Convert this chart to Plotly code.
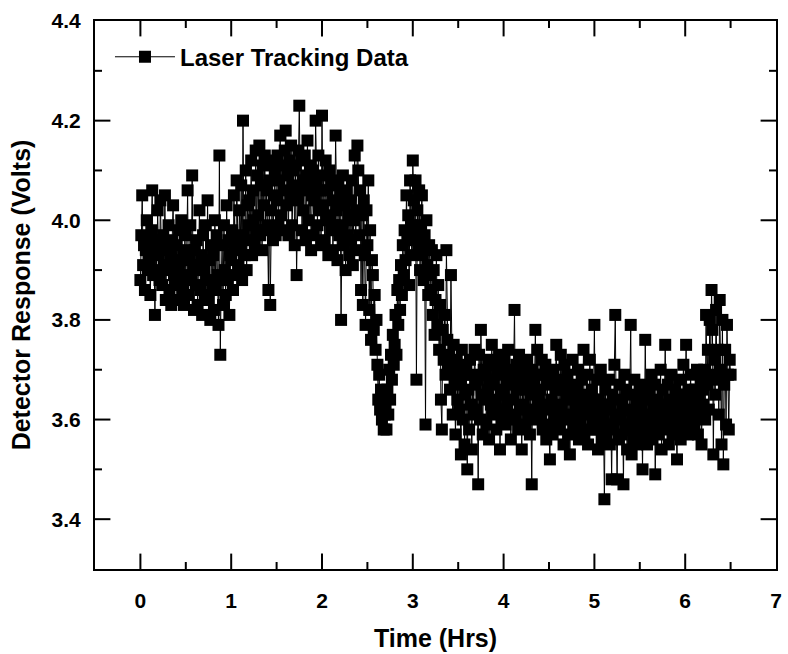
import plotly.graph_objects as go

# Time samples (hours), 0.00 .. 6.50 every 0.01 h
time_hrs = [round(i * 0.01, 2) for i in range(651)]

# Detector response (Volts), rows of 0.1 h
response_volts = [
    3.88, 3.97, 4.05, 3.91, 3.95, 3.86, 3.94, 4.00, 3.90, 3.96,   # 0.0
    3.92, 3.85, 3.98, 4.06, 3.89, 3.94, 3.81, 3.96, 3.90, 4.02,   # 0.1
    3.93, 3.88, 4.04, 3.95, 3.87, 3.97, 3.91, 4.05, 3.84, 3.94,   # 0.2
    3.90, 3.99, 3.86, 3.93, 3.83, 3.96, 4.03, 3.89, 3.92, 3.87,   # 0.3
    3.95, 3.84, 3.91, 3.98, 3.88, 4.00, 3.86, 3.93, 3.83, 3.97,   # 0.4
    3.89, 3.94, 4.06, 3.85, 3.92, 3.99, 3.88, 4.09, 3.90, 3.82,   # 0.5
    3.94, 3.87, 3.96, 3.83, 3.91, 4.02, 3.86, 3.93, 3.81, 3.97,   # 0.6
    3.90, 3.85, 3.99, 3.88, 4.04, 3.84, 3.92, 3.80, 3.95, 3.87,   # 0.7
    3.93, 3.82, 4.00, 3.86, 3.97, 3.89, 3.79, 4.13, 3.73, 3.88,   # 0.8
    3.95, 3.83, 3.99, 3.90, 3.85, 4.03, 3.88, 3.96, 3.81, 3.93,   # 0.9
    3.92, 3.98, 3.86, 4.05, 3.94, 3.89, 4.08, 3.96, 3.91, 4.02,   # 1.0
    3.95, 4.07, 3.88, 4.20, 3.97, 3.93, 4.10, 3.90, 4.03, 3.99,   # 1.1
    4.04, 3.96, 4.12, 3.93, 4.06, 4.00, 3.95, 4.14, 3.98, 4.09,   # 1.2
    4.01, 4.15, 3.97, 4.07, 3.94, 4.11, 4.03, 4.13, 3.98, 4.06,   # 1.3
    3.99, 3.86, 4.08, 3.83, 4.02, 4.12, 3.96, 4.05, 4.10, 3.97,   # 1.4
    4.04, 4.13, 3.99, 4.08, 4.17, 4.01, 4.11, 3.98, 4.06, 4.14,   # 1.5
    4.18, 4.03, 4.09, 3.97, 4.12, 4.05, 4.15, 3.99, 4.07, 4.10,   # 1.6
    3.95, 4.11, 3.89, 4.04, 4.14, 4.23, 4.06, 4.12, 3.98, 4.08,   # 1.7
    4.02, 4.13, 3.96, 4.09, 4.16, 4.00, 4.07, 4.11, 3.94, 4.05,   # 1.8
    4.10, 3.97, 4.04, 4.20, 4.08, 3.99, 4.13, 4.02, 4.06, 3.95,   # 1.9
    4.21, 4.03, 4.09, 3.96, 4.12, 4.00, 4.06, 3.93, 4.10, 4.01,   # 2.0
    3.98, 4.08, 3.94, 4.04, 3.99, 4.17, 4.02, 3.92, 4.07, 3.97,   # 2.1
    4.05, 3.80, 3.99, 4.09, 3.95, 4.03, 3.90, 4.06, 3.97, 4.01,   # 2.2
    3.93, 4.04, 3.96, 4.08, 3.91, 4.00, 4.13, 3.94, 4.02, 4.15,   # 2.3
    4.10, 3.97, 4.06, 3.86, 4.01, 3.83, 4.04, 3.93, 3.79, 4.02,   # 2.4
    3.95, 4.08, 3.82, 3.98, 3.76, 3.92, 3.89, 3.78, 3.85, 3.74,   # 2.5
    3.80, 3.71, 3.64, 3.69, 3.62, 3.66, 3.60, 3.64, 3.58, 3.61,   # 2.6
    3.63, 3.58, 3.66, 3.61, 3.70, 3.64, 3.73, 3.68, 3.77, 3.71,   # 2.7
    3.75, 3.81, 3.73, 3.86, 3.79, 3.88, 3.82, 3.91, 3.85, 3.95,   # 2.8
    3.89, 3.98, 3.92, 4.05, 3.96, 4.01, 3.87, 4.08, 3.99, 3.93,   # 2.9
    4.12, 4.04, 3.97, 4.08, 3.68, 4.02, 3.95, 4.06, 3.90, 3.99,   # 3.0
    4.05, 3.93, 3.88, 3.97, 3.59, 4.00, 3.91, 3.85, 3.95, 3.89,   # 3.1
    3.86, 3.94, 3.81, 3.90, 3.77, 3.84, 3.93, 3.79, 3.87, 3.74,   # 3.2
    3.83, 3.64, 3.58, 3.78, 3.72, 3.81, 3.69, 3.94, 3.76, 3.70,   # 3.3
    3.73, 3.66, 3.89, 3.71, 3.61, 3.75, 3.68, 3.57, 3.72, 3.64,   # 3.4
    3.70, 3.62, 3.67, 3.53, 3.74, 3.60, 3.69, 3.55, 3.65, 3.71,   # 3.5
    3.50, 3.66, 3.58, 3.72, 3.63, 3.54, 3.69, 3.61, 3.74, 3.67,   # 3.6
    3.62, 3.68, 3.47, 3.73, 3.60, 3.78, 3.65, 3.57, 3.70, 3.64,   # 3.7
    3.69, 3.59, 3.66, 3.72, 3.56, 3.68, 3.63, 3.75, 3.61, 3.67,   # 3.8
    3.71, 3.64, 3.58, 3.69, 3.62, 3.73, 3.54, 3.66, 3.60, 3.70,   # 3.9
    3.65, 3.72, 3.59, 3.68, 3.63, 3.74, 3.61, 3.67, 3.56, 3.70,   # 4.0
    3.64, 3.69, 3.82, 3.60, 3.71, 3.66, 3.58, 3.73, 3.62, 3.68,   # 4.1
    3.54, 3.67, 3.63, 3.70, 3.59, 3.66, 3.72, 3.61, 3.68, 3.57,   # 4.2
    3.65, 3.47, 3.70, 3.62, 3.67, 3.78, 3.60, 3.74, 3.64, 3.69,   # 4.3
    3.66, 3.61, 3.72, 3.58, 3.69, 3.63, 3.71, 3.56, 3.67, 3.62,   # 4.4
    3.59, 3.52, 3.68, 3.64, 3.57, 3.70, 3.61, 3.66, 3.75, 3.60,   # 4.5
    3.63, 3.68, 3.58, 3.73, 3.62, 3.66, 3.55, 3.71, 3.60, 3.65,   # 4.6
    3.69, 3.57, 3.64, 3.53, 3.67, 3.61, 3.72, 3.58, 3.66, 3.63,   # 4.7
    3.60, 3.66, 3.70, 3.56, 3.64, 3.59, 3.68, 3.62, 3.74, 3.57,   # 4.8
    3.65, 3.61, 3.69, 3.55, 3.63, 3.72, 3.58, 3.66, 3.60, 3.64,   # 4.9
    3.79, 3.58, 3.62, 3.68, 3.54, 3.64, 3.60, 3.70, 3.56, 3.63,   # 5.0
    3.61, 3.44, 3.66, 3.57, 3.63, 3.59, 3.68, 3.55, 3.62, 3.48,   # 5.1
    3.65, 3.58, 3.71, 3.81, 3.60, 3.48, 3.64, 3.56, 3.67, 3.61,   # 5.2
    3.57, 3.63, 3.47, 3.69, 3.59, 3.66, 3.54, 3.62, 3.58, 3.65,   # 5.3
    3.79, 3.53, 3.61, 3.56, 3.68, 3.60, 3.64, 3.55, 3.62, 3.58,   # 5.4
    3.66, 3.59, 3.63, 3.50, 3.67, 3.57, 3.76, 3.61, 3.55, 3.64,   # 5.5
    3.60, 3.65, 3.58, 3.69, 3.56, 3.62, 3.67, 3.49, 3.63, 3.59,   # 5.6
    3.64, 3.57, 3.61, 3.70, 3.54, 3.66, 3.60, 3.63, 3.75, 3.58,   # 5.7
    3.62, 3.67, 3.55, 3.64, 3.59, 3.69, 3.57, 3.63, 3.61, 3.66,   # 5.8
    3.58, 3.52, 3.65, 3.60, 3.68, 3.56, 3.63, 3.59, 3.71, 3.61,   # 5.9
    3.65, 3.75, 3.60, 3.57, 3.66, 3.62, 3.69, 3.58, 3.64, 3.61,   # 6.0
    3.59, 3.66, 3.63, 3.70, 3.57, 3.64, 3.61, 3.68, 3.55, 3.66,   # 6.1
    3.63, 3.70, 3.60, 3.81, 3.67, 3.74, 3.62, 3.80, 3.69, 3.86,   # 6.2
    3.78, 3.53, 3.72, 3.65, 3.82, 3.68, 3.74, 3.61, 3.84, 3.70,   # 6.3
    3.55, 3.80, 3.51, 3.67, 3.74, 3.59, 3.79, 3.69, 3.58, 3.72,   # 6.4
    3.69,                                                         # 6.5
]

x_range = [-0.5, 7]
y_range = [3.3, 4.4]
x_major_ticks = [0, 1, 2, 3, 4, 5, 6]
x_minor_ticks = [0.5, 1.5, 2.5, 3.5, 4.5, 5.5, 6.5]
y_major_ticks = [3.4, 3.6, 3.8, 4.0, 4.2]
y_minor_ticks = [3.5, 3.7, 3.9, 4.1, 4.3]
series_name = "Laser Tracking Data"
x_title = "Time (Hrs)"
y_title = "Detector Response (Volts)"

FONT = "Liberation Sans, Arial, sans-serif"
MAJOR_LEN, MINOR_LEN = 11, 5

fig = go.Figure()
fig.add_trace(go.Scatter(
    x=time_hrs, y=response_volts,
    mode="lines+markers",
    name=series_name,
    line=dict(color="black", width=1),
    marker=dict(symbol="square", size=12, color="black", line=dict(width=0)),
))

# Inward tick marks: line markers centred on the frame edges; the half that
# falls outside the plot area is clipped away (cliponaxis), leaving ticks inside.
def tick_trace(xs, ys, symbol, length):
    return go.Scatter(
        x=xs, y=ys, mode="markers", cliponaxis=True,
        marker=dict(symbol=symbol, size=2 * length, color="black",
                    line=dict(color="black", width=2)),
        hoverinfo="skip", showlegend=False,
    )

for vals, length in ((x_major_ticks, MAJOR_LEN), (x_minor_ticks, MINOR_LEN)):
    for edge in y_range:
        fig.add_trace(tick_trace(vals, [edge] * len(vals), "line-ns", length))
for vals, length in ((y_major_ticks, MAJOR_LEN), (y_minor_ticks, MINOR_LEN)):
    for edge in x_range:
        fig.add_trace(tick_trace([edge] * len(vals), vals, "line-ew", length))

tickfont = dict(family=FONT, size=21, color="black", weight="bold")
titlefont = dict(family=FONT, size=25, color="black", weight="bold")

fig.update_xaxes(
    range=x_range, tickmode="linear", tick0=0, dtick=1,
    showgrid=False, zeroline=False,
    showline=True, linecolor="black", linewidth=2, mirror=True,
    ticks="", ticklabelstandoff=12,
    tickfont=tickfont,
    title=dict(text=x_title, standoff=18, font=titlefont),
)
fig.update_yaxes(
    range=y_range, tickmode="linear", tick0=3.4, dtick=0.2, tickformat=".1f",
    showgrid=False, zeroline=False,
    showline=True, linecolor="black", linewidth=2, mirror=True,
    ticks="", ticklabelstandoff=8,
    tickfont=tickfont,
    title=dict(text=y_title, standoff=14, font=titlefont),
)

fig.update_layout(
    width=788, height=654,
    margin=dict(l=95, r=6, t=21, b=84),
    paper_bgcolor="white", plot_bgcolor="white",
    font=dict(family=FONT, color="black"),
    showlegend=True,
    legend=dict(
        x=0.022, y=0.934, xanchor="left", yanchor="middle",
        bgcolor="rgba(0,0,0,0)", borderwidth=0,
        itemwidth=60,
        font=dict(family=FONT, size=24, color="black", weight="bold"),
    ),
)

fig.write_html("out.html")
